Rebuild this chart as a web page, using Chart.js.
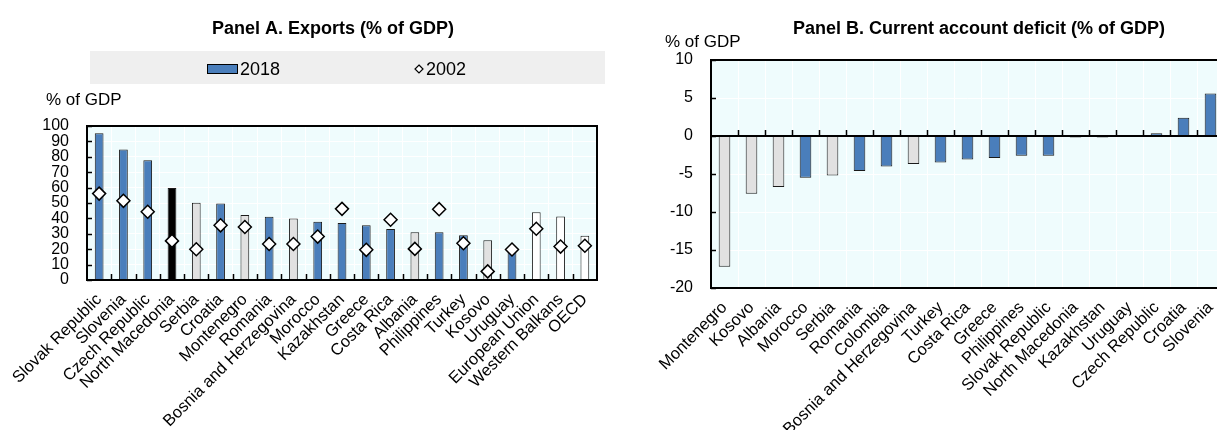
<!DOCTYPE html>
<html>
<head>
<meta charset="utf-8">
<title>Exports and current account</title>
<script src="https://cdn.jsdelivr.net/npm/chart.js@4.4.1/dist/chart.umd.min.js"></script>
<style>
  html, body { margin: 0; padding: 0; background: #fff; width: 1217px; height: 430px; overflow: hidden; }
  #exportsChart { position: absolute; left: 0; top: 0; }
  #deficitChart { position: absolute; left: 600px; top: 0; }
</style>
</head>
<body>
<canvas id="exportsChart" width="610" height="430"></canvas>
<canvas id="deficitChart" width="640" height="430"></canvas>
<script>
/**
 * Panel A: exports, 2018 bars and 2002 diamonds.
 */
const exportsCategories = [
  "Slovak Republic", "Slovenia", "Czech Republic", "North Macedonia", "Serbia", "Croatia",
  "Montenegro", "Romania", "Bosnia and Herzegovina", "Morocco", "Kazakhstan", "Greece",
  "Costa Rica", "Albania", "Philippines", "Turkey", "Kosovo", "Uruguay",
  "European Union", "Western Balkans", "OECD"
];
const exports2018 = [95.3, 84.7, 77.8, 59.8, 50.1, 49.7, 42.2, 41.1, 40.0, 37.8, 37.0, 35.5, 33.1, 31.0, 31.0, 29.0, 25.8, 19.5, 44.0, 41.3, 28.8];
const exports2002 = [56.1, 51.4, 44.3, 25.4, 20.0, 35.5, 34.4, 23.4, 23.4, 28.2, 46.2, 19.6, 39.1, 20.2, 46.0, 23.9, 5.6, 19.8, 33.3, 21.7, 22.2];
const exportsTicks = [0, 10, 20, 30, 40, 50, 60, 70, 80, 90, 100];

/**
 * Panel B: current account balance, 2018.
 */
const deficitCategories = [
  "Montenegro", "Kosovo", "Albania", "Morocco", "Serbia", "Romania", "Colombia",
  "Bosnia and Herzegovina", "Turkey", "Costa Rica", "Greece", "Philippines", "Slovak Republic",
  "North Macedonia", "Kazakhstan", "Uruguay", "Czech Republic", "Croatia", "Slovenia"
];
const deficit2018 = [-17.2, -7.6, -6.7, -5.5, -5.2, -4.6, -4.0, -3.7, -3.5, -3.1, -2.9, -2.6, -2.6, -0.2, -0.2, 0.1, 0.35, 2.4, 5.6];
const deficitTicks = [-20, -15, -10, -5, 0, 5, 10];

// Country groups, used for the bar colours
const westernBalkans = ["Serbia", "Montenegro", "Bosnia and Herzegovina", "Albania", "Kosovo"];
const aggregates = ["European Union", "Western Balkans", "OECD"];
const focusCountry = "North Macedonia";

const BLUE = "#4a7ebb";
const PLOT_BG = "#effcfd";
const FONT = "'Liberation Sans', Arial, sans-serif";

Chart.defaults.font.family = FONT;
Chart.defaults.color = "#000";

function barColour(name) {
  if (name === focusCountry) return "#000000";
  if (westernBalkans.includes(name)) return "#e1e1e1";
  if (aggregates.includes(name)) return "#ffffff";
  return BLUE;
}

/**
 * Light background in the plot area, drawn under the grid.
 */
const plotBackground = {
  id: "plotBackground",
  beforeDraw(chart) {
    const { ctx, chartArea } = chart;
    ctx.save();
    ctx.fillStyle = PLOT_BG;
    ctx.fillRect(chartArea.left, chartArea.top, chartArea.right - chartArea.left, chartArea.bottom - chartArea.top);
    ctx.restore();
  }
};

/**
 * Frame, zero line and the short inward tick marks.
 */
const plotFrame = {
  id: "plotFrame",
  afterDatasetsDraw(chart) {
    const { ctx, chartArea } = chart;
    const xs = chart.scales.x;
    const ys = chart.scales.y;
    const zeroY = Math.round(ys.getPixelForValue(0));
    const half = (xs.getPixelForValue(1) - xs.getPixelForValue(0)) / 2;

    ctx.save();
    ctx.strokeStyle = "#000";
    ctx.lineWidth = 1.5;

    // category ticks, standing on the zero line
    ctx.beginPath();
    for (let i = 0; i < xs.ticks.length - 1; i++) {
      const bx = Math.round(xs.getPixelForValue(i) + half) + 0.5;
      ctx.moveTo(bx, zeroY);
      ctx.lineTo(bx, zeroY - 6);
    }
    // value ticks, pointing into the plot
    ys.ticks.forEach((t) => {
      const ty = Math.round(ys.getPixelForValue(t.value)) + 0.5;
      ctx.moveTo(chartArea.left, ty);
      ctx.lineTo(chartArea.left + 5, ty);
    });
    ctx.stroke();

    ctx.lineWidth = 2;
    ctx.beginPath();
    ctx.moveTo(chartArea.left, zeroY);
    ctx.lineTo(chartArea.right, zeroY);
    ctx.stroke();
    ctx.strokeRect(chartArea.left, chartArea.top, chartArea.right - chartArea.left, chartArea.bottom - chartArea.top);
    ctx.restore();
  }
};

/**
 * Panel title and the unit label over the value axis.
 */
function panelText(title, titleX, unitX, unitY) {
  return {
    id: "panelText",
    afterDraw(chart) {
      const ctx = chart.ctx;
      ctx.save();
      ctx.fillStyle = "#000";
      ctx.textBaseline = "middle";
      ctx.textAlign = "center";
      ctx.font = "bold 18px " + FONT;
      ctx.fillText(title, titleX, 29);
      ctx.textAlign = "left";
      ctx.font = "17px " + FONT;
      ctx.fillText("% of GDP", unitX, unitY);
      ctx.restore();
    }
  };
}

/**
 * Legend of panel A, in a grey band over the plot.
 */
const exportsLegend = {
  id: "exportsLegend",
  afterDraw(chart) {
    const ctx = chart.ctx;
    const barSet = chart.data.datasets[1];
    const pointSet = chart.data.datasets[0];
    ctx.save();
    ctx.fillStyle = "#efefef";
    ctx.fillRect(90, 51, 515, 33);

    ctx.fillStyle = BLUE;
    ctx.fillRect(207, 64, 31, 10);
    ctx.strokeStyle = "#000";
    ctx.lineWidth = 1;
    ctx.strokeRect(207.5, 64.5, 30, 9);

    ctx.beginPath();
    ctx.moveTo(419, 65);
    ctx.lineTo(423, 69);
    ctx.lineTo(419, 73);
    ctx.lineTo(415, 69);
    ctx.closePath();
    ctx.fillStyle = "#fff";
    ctx.fill();
    ctx.lineWidth = 1.2;
    ctx.stroke();

    ctx.fillStyle = "#000";
    ctx.font = "18px " + FONT;
    ctx.textBaseline = "middle";
    ctx.textAlign = "left";
    ctx.fillText(barSet.label, 240, 70);
    ctx.fillText(pointSet.label, 426, 70);
    ctx.restore();
  }
};

function categoryAxis(height) {
  return {
    offset: true,
    grid: { color: "#ffffff", lineWidth: 1, offset: true, drawTicks: false },
    border: { display: false },
    ticks: {
      autoSkip: false,
      minRotation: 45,
      maxRotation: 45,
      padding: 10,
      font: { size: 16.5 }
    },
    afterFit(scale) { scale.height = height; }
  };
}

function valueAxis(ticks, width) {
  return {
    min: ticks[0],
    max: ticks[ticks.length - 1],
    grid: { color: "#ffffff", lineWidth: 1, drawTicks: false },
    border: { display: false },
    afterBuildTicks(scale) { scale.ticks = ticks.map((v) => ({ value: v })); },
    ticks: { autoSkip: false, padding: 18, font: { size: 16 } },
    afterFit(scale) { scale.width = width; }
  };
}

new Chart(document.getElementById("exportsChart").getContext("2d"), {
  type: "bar",
  data: {
    labels: exportsCategories,
    datasets: [{
      type: "line",
      label: "2002",
      data: exports2002,
      showLine: false,
      pointStyle: "rectRot",
      pointRadius: 6.5,
      pointBackgroundColor: "#ffffff",
      pointBorderColor: "#000000",
      pointBorderWidth: 1.5,
      order: 1
    }, {
      label: "2018",
      data: exports2018,
      backgroundColor: exportsCategories.map(barColour),
      borderColor: "#1a1a1a",
      borderWidth: 1,
      categoryPercentage: 1,
      barPercentage: 0.36,
      order: 2
    }]
  },
  options: {
    responsive: false,
    animation: false,
    layout: { padding: { top: 126, left: 0, right: 13, bottom: 0 } },
    plugins: { legend: { display: false }, tooltip: { enabled: false } },
    scales: {
      x: categoryAxis(150),
      y: valueAxis(exportsTicks, 87)
    }
  },
  plugins: [plotBackground, plotFrame, exportsLegend, panelText("Panel A. Exports (% of GDP)", 333, 46, 100)]
});

new Chart(document.getElementById("deficitChart").getContext("2d"), {
  type: "bar",
  data: {
    labels: deficitCategories,
    datasets: [{
      label: "2018",
      data: deficit2018,
      backgroundColor: deficitCategories.map(barColour),
      borderColor: "#1a1a1a",
      borderWidth: 1,
      categoryPercentage: 1,
      barPercentage: 0.43
    }]
  },
  options: {
    responsive: false,
    animation: false,
    layout: { padding: { top: 60, left: 0, right: 16, bottom: 0 } },
    plugins: { legend: { display: false }, tooltip: { enabled: false } },
    scales: {
      x: categoryAxis(142),
      y: valueAxis(deficitTicks, 111)
    }
  },
  plugins: [plotBackground, plotFrame, panelText("Panel B. Current account deficit (% of GDP)", 379, 65, 42)]
});
</script>
</body>
</html>
